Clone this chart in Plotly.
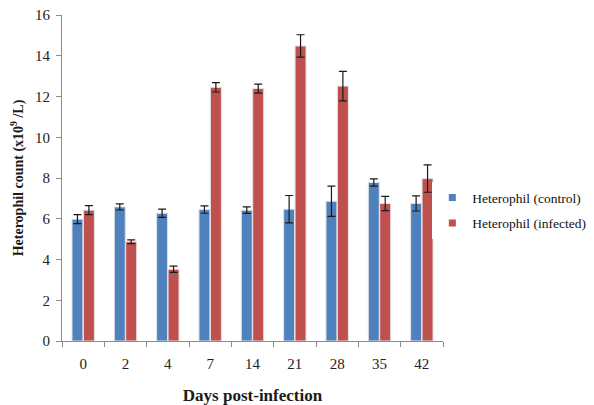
import plotly.graph_objects as go

days = ["0", "2", "4", "7", "14", "21", "28", "35", "42"]
control = [5.98, 6.58, 6.27, 6.45, 6.42, 6.47, 6.86, 7.78, 6.75]
control_err = [0.22, 0.15, 0.2, 0.18, 0.16, 0.67, 0.74, 0.18, 0.37]
infected = [6.42, 4.87, 3.52, 12.45, 12.39, 14.48, 12.51, 6.75, 7.97]
infected_err = [0.22, 0.09, 0.15, 0.23, 0.22, 0.55, 0.72, 0.35, 0.67]

FONT = "Liberation Serif"
BLUE = "#4F81BD"
RED = "#C0504D"

fig = go.Figure()
fig.add_trace(go.Bar(
    x=days, y=control, name="Heterophil (control)", showlegend=False,
    marker=dict(color=BLUE, line=dict(color="#E3E3E3", width=1)),
    error_y=dict(type="data", array=control_err, color="#1a1a1a", thickness=1.2, width=4),
))
fig.add_trace(go.Bar(
    x=days, y=infected, name="Heterophil (infected)", showlegend=False,
    marker=dict(color=RED, line=dict(color="#E3E3E3", width=1)),
    error_y=dict(type="data", array=infected_err, color="#1a1a1a", thickness=1.2, width=4),
))
# legend entries with small square swatches
for name, col, grp in [("Heterophil (control)", BLUE, "a"), ("Heterophil (infected)", RED, "b")]:
    fig.add_trace(go.Scatter(
        x=[None], y=[None], mode="markers", name=name, legendgroup=grp,
        marker=dict(symbol="square", size=7, color=col),
    ))

fig.update_layout(
    width=586, height=397,
    margin=dict(l=54, r=151, t=7, b=64, autoexpand=False),
    paper_bgcolor="white", plot_bgcolor="white",
    barmode="group", bargap=0.46, bargroupgap=0.04,
    font=dict(family=FONT, size=15, color="#1a1a1a"),
    showlegend=True,
    legend=dict(x=0.972, xanchor="left", y=0.40, yanchor="middle",
                font=dict(family=FONT, size=13.5, color="#111111"),
                tracegroupgap=5, traceorder="grouped", itemwidth=30),
    xaxis=dict(
        showline=True, linecolor="#8C8C8C", linewidth=1, automargin=False,
        ticks="outside", ticklen=5, tickcolor="#8C8C8C", tickson="boundaries",
        tickfont=dict(family=FONT, size=15, color="#222222"), ticklabelstandoff=9,
        title=dict(text="<b>Days post-infection</b>", font=dict(family=FONT, size=17), standoff=20),
        showgrid=False,
    ),
    yaxis=dict(
        range=[0, 16], dtick=2, automargin=False,
        showline=True, linecolor="#8C8C8C", linewidth=1,
        ticks="outside", ticklen=5, tickcolor="#8C8C8C",
        tickfont=dict(family=FONT, size=15, color="#222222"), ticklabelstandoff=3,
        ticklabeloverflow="allow",
        showgrid=False, zeroline=False,
        title=dict(text="<b>Heterophil count (x10<sup>9</sup> /L)</b>", font=dict(family=FONT, size=14), standoff=8),
    ),
)

fig.write_html("out.html")
